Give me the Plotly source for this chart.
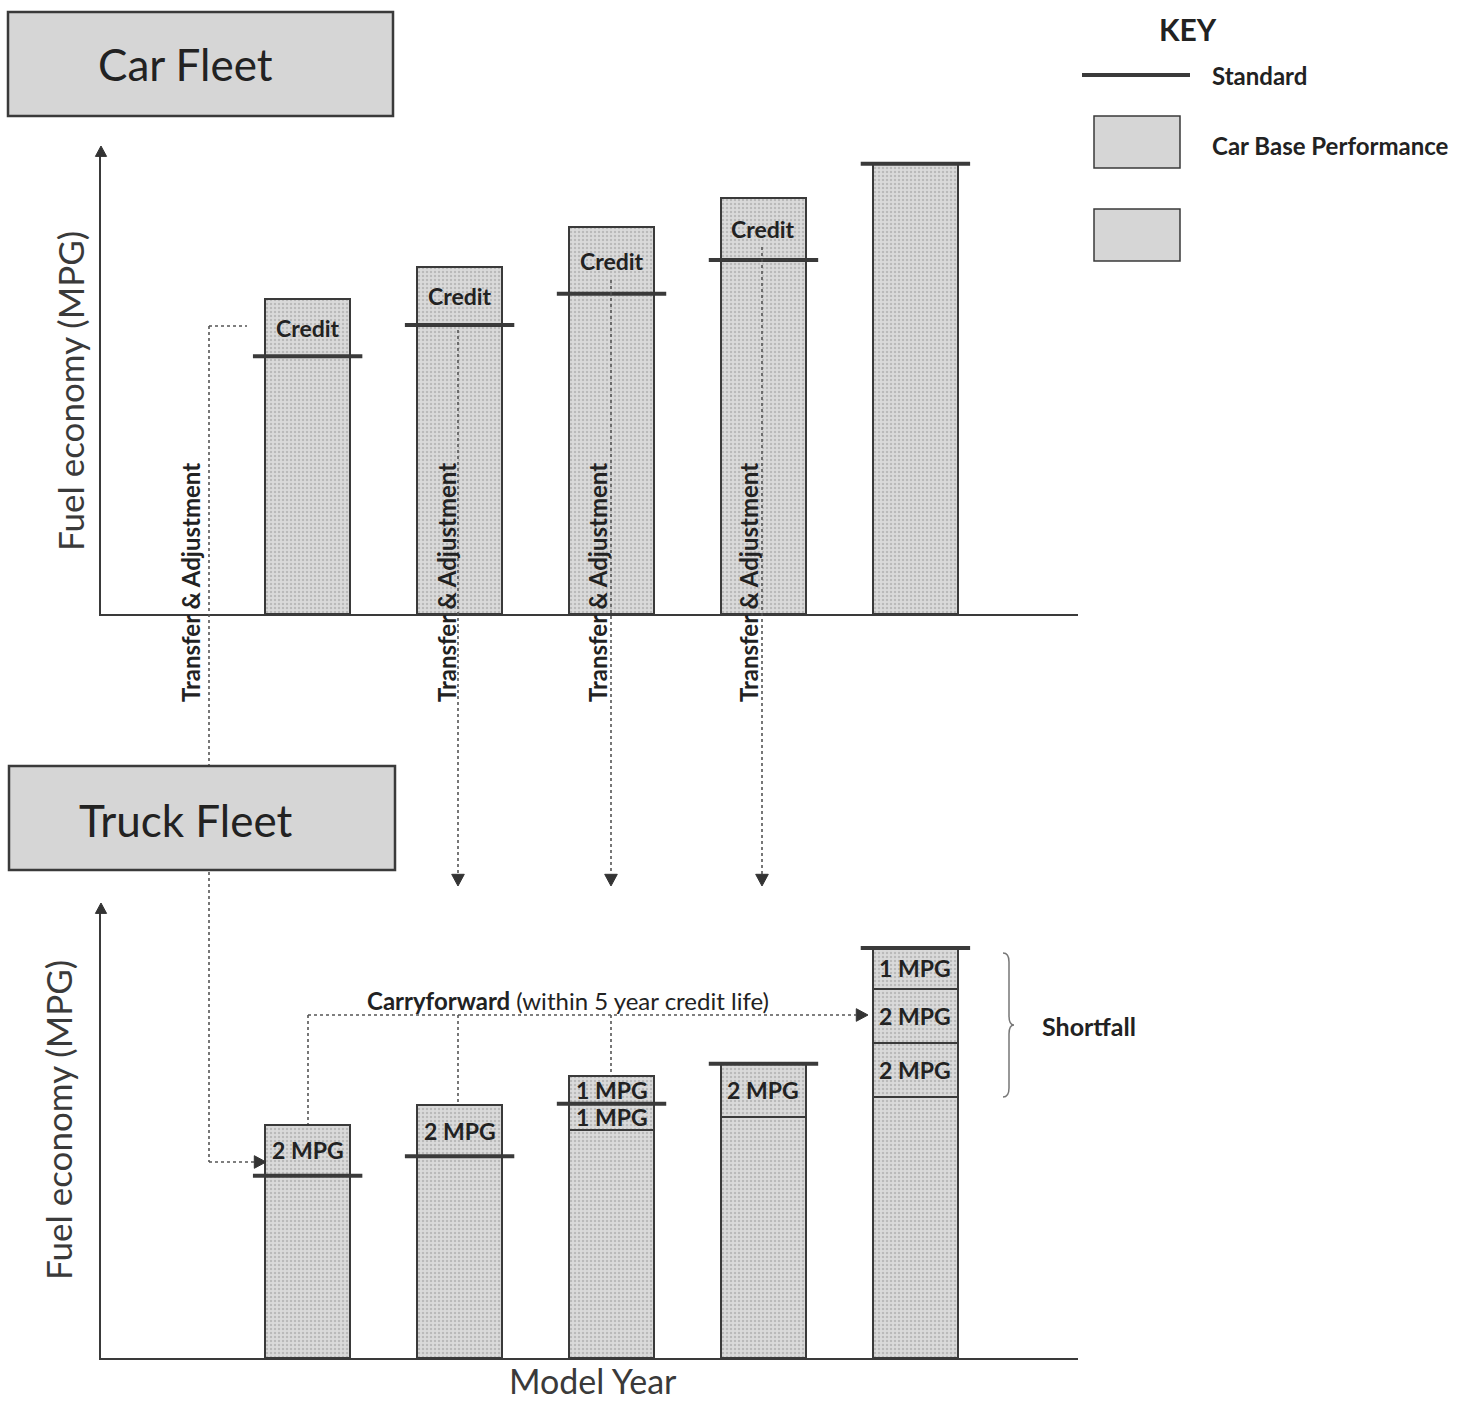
import plotly.graph_objects as go

W, H = 1457, 1402


def px(x):
    return x / W


def py(y):
    return 1 - y / H


# ---------------- data ----------------
model_years = [1, 2, 3, 4, 5]

car_standard = [9.9, 11.1, 12.3, 13.6, 17.3]
car_performance = [12.1, 13.35, 14.85, 16.0, 17.3]
car_labels = ["Credit", "Credit", "Credit", "Credit", ""]

truck_standard = [7.0, 7.75, 9.77, 11.3, 15.75]
truck_base = [7.0, 7.75, 8.75, 9.27, 10.04]
truck_seg1 = [1.96, 1.96, 1.04, 2.04, 2.08]
truck_seg2 = [None, None, 1.04, None, 2.04]
truck_seg3 = [None, None, None, None, 1.62]
truck_seg1_labels = ["2 MPG", "2 MPG", "1 MPG", "2 MPG", "2 MPG"]
truck_seg2_labels = ["", "", "1 MPG", "", "2 MPG"]
truck_seg3_labels = ["", "", "", "", "1 MPG"]

# ---------------- styles ----------------
FONT = "Lato"
DARK = "#222222"
LINEC = "#3a3a3a"
DOT = "#555555"
BAR_W = 0.56
STD_HALF = 0.36


def bar_marker():
    return dict(
        color="#d2d2d2",
        line=dict(color=LINEC, width=2),
        pattern=dict(shape=".", fgcolor="#999999", bgcolor="#dadada", size=4, solidity=0.3),
    )


def std_xy(xs, ys):
    X, Y = [], []
    for x, y in zip(xs, ys):
        X += [x - STD_HALF, x + STD_HALF, None]
        Y += [y, y, None]
    return X, Y


fig = go.Figure()

# ---- car fleet (top) ----
fig.add_trace(go.Bar(x=model_years, y=car_performance, width=BAR_W, marker=bar_marker(),
                     xaxis="x", yaxis="y", showlegend=False, hoverinfo="skip"))
sx, sy = std_xy(model_years, car_standard)
fig.add_trace(go.Scatter(x=sx, y=sy, mode="lines", line=dict(color=LINEC, width=4),
                         xaxis="x", yaxis="y", showlegend=False, hoverinfo="skip"))

# ---- truck fleet (bottom) ----
for seg in [truck_base, truck_seg1, truck_seg2, truck_seg3]:
    fig.add_trace(go.Bar(x=model_years, y=seg, width=BAR_W, marker=bar_marker(),
                         xaxis="x2", yaxis="y2", showlegend=False, hoverinfo="skip"))
sx, sy = std_xy(model_years, truck_standard)
fig.add_trace(go.Scatter(x=sx, y=sy, mode="lines", line=dict(color=LINEC, width=4),
                         xaxis="x2", yaxis="y2", showlegend=False, hoverinfo="skip"))

annotations = []
LABEL_FONT = dict(family=FONT, size=23, color=DARK)


def ann(x, y, text, font, xref="paper", yref="paper", xanchor="center", angle=0):
    annotations.append(dict(x=x, y=y, xref=xref, yref=yref, text=text, showarrow=False,
                            xanchor=xanchor, yanchor="middle", textangle=angle, font=font))


# Credit labels
for x, s, p, t in zip(model_years, car_standard, car_performance, car_labels):
    if t:
        ann(x, (s + p) / 2, f"<b>{t}</b>", LABEL_FONT, xref="x", yref="y")

# MPG labels
for i, x in enumerate(model_years):
    bottom = truck_base[i]
    for seg, labs in [(truck_seg1, truck_seg1_labels), (truck_seg2, truck_seg2_labels),
                      (truck_seg3, truck_seg3_labels)]:
        v = seg[i]
        if v is None:
            continue
        ann(x, bottom + v / 2, f"<b>{labs[i]}</b>", LABEL_FONT, xref="x2", yref="y2")
        bottom += v

# Transfer & Adjustment labels
for xc in [190, 446, 597, 748]:
    ann(px(xc), py(583), "<b>Transfer & Adjustment</b>",
        dict(family=FONT, size=24, color=DARK), angle=-90)

# Fleet titles
ann(px(186), py(64), "Car Fleet", dict(family=FONT, size=44, color=DARK))
ann(px(185), py(820), "Truck Fleet", dict(family=FONT, size=44, color=DARK))

# Carryforward label
ann(px(568), py(1000), "<b>Carryforward</b> (within 5 year credit life)",
    dict(family=FONT, size=24, color=DARK))
# Shortfall
ann(px(1040), py(1026), "<b>Shortfall</b>", dict(family=FONT, size=25, color=DARK), xanchor="left")

# KEY
ann(px(1188), py(29), "<b>KEY</b>", dict(family=FONT, size=30, color=DARK))
ann(px(1210), py(75), "<b>Standard</b>", dict(family=FONT, size=24, color=DARK), xanchor="left")
ann(px(1210), py(146), "<b>Car Base Performance</b>", dict(family=FONT, size=24, color=DARK),
    xanchor="left")

# Axis titles
TITLE_FONT = dict(family=FONT, size=35, color="#3a3a3a")
ann(px(70), py(391), "Fuel economy (MPG)", TITLE_FONT, angle=-90)
ann(px(58), py(1120), "Fuel economy (MPG)", TITLE_FONT, angle=-90)
ann(px(593), py(1380), "Model Year", dict(family=FONT, size=34, color="#3a3a3a"))

shapes = []


def dline(x0, y0, x1, y1):
    shapes.append(dict(type="line", xref="paper", yref="paper", x0=px(x0), y0=py(y0),
                       x1=px(x1), y1=py(y1), line=dict(color=DOT, width=1.6, dash="dot")))


def tri(x, y, d, s=9):
    if d == "down":
        pts = [(x - s * 0.7, y - s * 1.3), (x, y), (x + s * 0.7, y - s * 1.3)]
    elif d == "up":
        pts = [(x - s * 0.7, y + s * 1.3), (x, y), (x + s * 0.7, y + s * 1.3)]
    else:  # right
        pts = [(x - s * 1.3, y - s * 0.7), (x, y), (x - s * 1.3, y + s * 0.7)]
    path = "M " + " L ".join(f"{px(a):.5f},{py(b):.5f}" for a, b in pts) + " Z"
    shapes.append(dict(type="path", xref="paper", yref="paper", path=path,
                       fillcolor="#333333", line=dict(color="#333333", width=1)))


# transfer arrows
dline(209, 326, 247, 326)
dline(209, 326, 209, 1162)
dline(209, 1162, 256, 1162)
tri(266, 1162, "right")
for xv, y0 in [(458, 330), (611, 280), (762, 247)]:
    dline(xv, y0, xv, 874)
    tri(xv, 886, "down")

# carryforward
dline(308, 1015, 856, 1015)
tri(868, 1015, "right")
dline(308, 1015, 308, 1124)
dline(458, 1015, 458, 1104)
dline(611, 1015, 611, 1076)

# brace
bx0, bx1 = 1003, 1009
brace = (f"M {px(bx0)},{py(953)} Q {px(bx1)},{py(953)} {px(bx1)},{py(962)} "
         f"L {px(bx1)},{py(1016)} Q {px(bx1)},{py(1025)} {px(1014)},{py(1025)} "
         f"Q {px(bx1)},{py(1025)} {px(bx1)},{py(1034)} "
         f"L {px(bx1)},{py(1088)} Q {px(bx1)},{py(1097)} {px(bx0)},{py(1097)}")
shapes.append(dict(type="path", xref="paper", yref="paper", path=brace,
                   line=dict(color="#777777", width=1.5)))

# fleet title boxes (drawn after the dotted line so they cover it)
for (x0, y0, x1, y1) in [(8, 12, 393, 116), (9, 766, 395, 870)]:
    shapes.append(dict(type="rect", xref="paper", yref="paper", x0=px(x0), y0=py(y1),
                       x1=px(x1), y1=py(y0), fillcolor="#d6d6d6",
                       line=dict(color=LINEC, width=2.5)))

# y-axis arrowheads
tri(101, 146, "up", s=8)
tri(101, 903, "up", s=8)

# KEY symbols
shapes.append(dict(type="line", xref="paper", yref="paper", x0=px(1082), y0=py(75), x1=px(1190),
                   y1=py(75), line=dict(color=LINEC, width=4)))
for (y0, y1) in [(116, 168), (209, 261)]:
    shapes.append(dict(type="rect", xref="paper", yref="paper", x0=px(1094), y0=py(y1),
                       x1=px(1180), y1=py(y0), fillcolor="#d6d6d6",
                       line=dict(color=LINEC, width=1.5)))

x_dom = [px(101), px(1078)]
x_range = [-0.36, 6.07]
axis_common = dict(showgrid=False, zeroline=False, showticklabels=False, ticks="",
                   showline=True, linecolor=LINEC, linewidth=2)

fig.update_layout(
    width=W, height=H,
    margin=dict(l=0, r=0, t=0, b=0),
    paper_bgcolor="white", plot_bgcolor="rgba(0,0,0,0)",
    barmode="stack", bargap=0,
    showlegend=False,
    xaxis=dict(domain=x_dom, range=x_range, anchor="y", **axis_common),
    yaxis=dict(domain=[py(614), py(150)], range=[0, (614 - 150) / 26.03], anchor="x", **axis_common),
    xaxis2=dict(domain=x_dom, range=x_range, anchor="y2", **axis_common),
    yaxis2=dict(domain=[py(1358), py(907)], range=[0, (1358 - 907) / 26.03], anchor="x2", **axis_common),
    annotations=annotations,
    shapes=shapes,
)

fig.write_html("out.html", config={"displayModeBar": False},
               post_script="document.body.style.margin='0';")
